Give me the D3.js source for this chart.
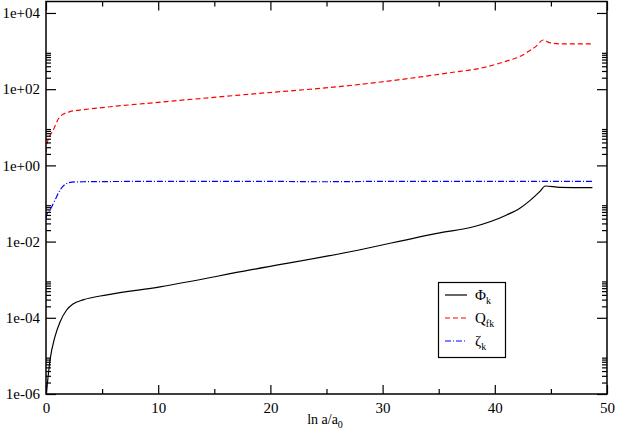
<!DOCTYPE html>
<html><head><meta charset="utf-8">
<script src="https://cdn.jsdelivr.net/npm/d3@7"></script>
<style>body{margin:0;background:#fff}svg{display:block}</style>
</head><body><svg id="c" width="617" height="436" font-family="Liberation Serif"></svg>
<script>
// ---- data ----
const phiX = [0.03, 0.36, 0.8, 1.25, 1.84, 2.41, 3.3, 5.44, 10.16, 18.2, 27.1, 35.1, 38.1, 41.06, 42.2, 43.1, 44.0, 44.5, 45.8, 48.7];
const phiY = [1.0e-6, 7.8e-6, 3.2e-5, 7.8e-5, 1.6e-4, 2.3e-4, 2.95e-4, 4.0e-4, 6.5e-4, 1.8e-3, 5.4e-3, 1.7e-2, 2.45e-2, 5.0e-2, 7.4e-2, 0.117, 0.204, 0.288, 0.266, 0.26];
const qX = [0, 0.06, 0.65, 1.25, 2.14, 3.0, 4.8, 10.2, 18.2, 27.1, 36.0, 39.0, 41.4, 42.2, 43.1, 43.7, 44.3, 44.9, 45.8, 48.7];
const qY = [2.24, 3.47, 8.5, 19.1, 25.7, 28.2, 32.4, 45.7, 74, 125, 270, 370, 590, 708, 1023, 1349, 1950, 1660, 1549, 1549];
const zX = [0, 0.06, 0.36, 0.8, 1.25, 1.7, 2.3, 3.3, 10, 20, 24.4, 30, 40, 48.7];
const zY = [0.040, 0.050, 0.068, 0.123, 0.224, 0.316, 0.363, 0.372, 0.38, 0.38, 0.372, 0.38, 0.38, 0.38];
const xTicks = [0, 10, 20, 30, 40, 50];
const xMinor = [5, 15, 25, 35, 45];
const yTicks = [1e-6, 1e-4, 1e-2, 1, 1e2, 1e4];
const yLabels = ["1e-06", "1e-04", "1e-02", "1e+00", "1e+02", "1e+04"];
const series = [
  {name: "Φ", sub: "k", xs: phiX, ys: phiY, color: "#000", dash: null},
  {name: "Q", sub: "fk", xs: qX, ys: qY, color: "#ff0000", dash: "5,3"},
  {name: "ζ", sub: "k", xs: zX, ys: zY, color: "#0000ff", dash: "6,2,1,2"}
];

// ---- layout ----
const FONT = "Liberation Serif";
const L = 46, R = 607, T = 1.5, B = 394;
const svg = d3.select("#c");
const x = d3.scaleLinear().domain([0, 50]).range([L, R]);
const y = d3.scaleLog().domain([1e-6, 2e4]).range([B, T]);

svg.append("defs").append("clipPath").attr("id", "clip")
  .append("rect").attr("x", L).attr("y", T).attr("width", R - L).attr("height", B - T);

const line = d3.line().x(d => x(d[0])).y(d => y(d[1])).curve(d3.curveMonotoneX);
const g = svg.append("g").attr("clip-path", "url(#clip)");
series.forEach(s => {
  const pts = s.xs.map((v, i) => [v, s.ys[i]]);
  g.append("path").attr("d", line(pts)).attr("fill", "none")
    .attr("stroke", s.color).attr("stroke-width", 1.2)
    .attr("stroke-dasharray", s.dash);
});

// minor y ticks
const yMinor = [];
yTicks.forEach(t => { if (t < 1e4) for (let k = 2; k <= 9; k++) yMinor.push(t * k); });

// axes
const axB = d3.axisBottom(x).tickValues(xTicks).tickSize(-9).tickPadding(8).tickFormat(d3.format("d"));
const axBm = d3.axisBottom(x).tickValues(xMinor).tickSize(-5).tickFormat("");
const axT = d3.axisTop(x).tickValues(xTicks).tickSize(-9).tickFormat("");
const axTm = d3.axisTop(x).tickValues(xMinor).tickSize(-5).tickFormat("");
const axL = d3.axisLeft(y).tickValues(yTicks).tickSize(-10).tickPadding(6).tickFormat((d, i) => yLabels[i]);
const axLm = d3.axisLeft(y).tickValues(yMinor).tickSize(-5).tickFormat("");
const axR = d3.axisRight(y).tickValues(yTicks).tickSize(-10).tickFormat("");
const axRm = d3.axisRight(y).tickValues(yMinor).tickSize(-5).tickFormat("");

function put(ax, tr) {
  const a = svg.append("g").attr("transform", tr).call(ax);
  a.attr("font-family", FONT).attr("font-size", 15);
  a.select(".domain").remove();
  a.selectAll("line").attr("stroke", "#000").attr("stroke-width", 1.2);
  a.selectAll("text").attr("font-family", FONT).attr("font-size", 15).attr("fill", "#000");
  return a;
}
put(axB, `translate(0,${B})`);
put(axBm, `translate(0,${B})`);
put(axT, `translate(0,${T})`);
put(axTm, `translate(0,${T})`);
put(axL, `translate(${L},0)`);
put(axLm, `translate(${L},0)`);
put(axR, `translate(${R},0)`);
put(axRm, `translate(${R},0)`);

svg.append("rect").attr("x", L).attr("y", T).attr("width", R - L).attr("height", B - T)
  .attr("fill", "none").attr("stroke", "#000").attr("stroke-width", 1.5);

// axis title
const xt = svg.append("text").attr("x", 325).attr("y", 424).attr("text-anchor", "middle")
  .attr("font-family", FONT).attr("font-size", 14);
xt.append("tspan").text("ln a/a");
xt.append("tspan").attr("font-size", 10).attr("dy", 4).text("0");

// legend
const lg = svg.append("g");
lg.append("rect").attr("x", 438.5).attr("y", 282.5).attr("width", 67).attr("height", 75)
  .attr("fill", "#fff").attr("stroke", "#000").attr("stroke-width", 1.2);
series.forEach((s, i) => {
  const yy = 295 + i * 23;
  lg.append("line").attr("x1", 445).attr("x2", 467).attr("y1", yy).attr("y2", yy)
    .attr("stroke", s.color).attr("stroke-width", 1.2).attr("stroke-dasharray", s.dash);
  const t = lg.append("text").attr("x", 475).attr("y", yy + 5)
    .attr("font-family", FONT).attr("font-size", 15);
  t.append("tspan").text(s.name);
  t.append("tspan").attr("font-size", 10).attr("dy", 4).text(s.sub);
});
</script></body></html>
